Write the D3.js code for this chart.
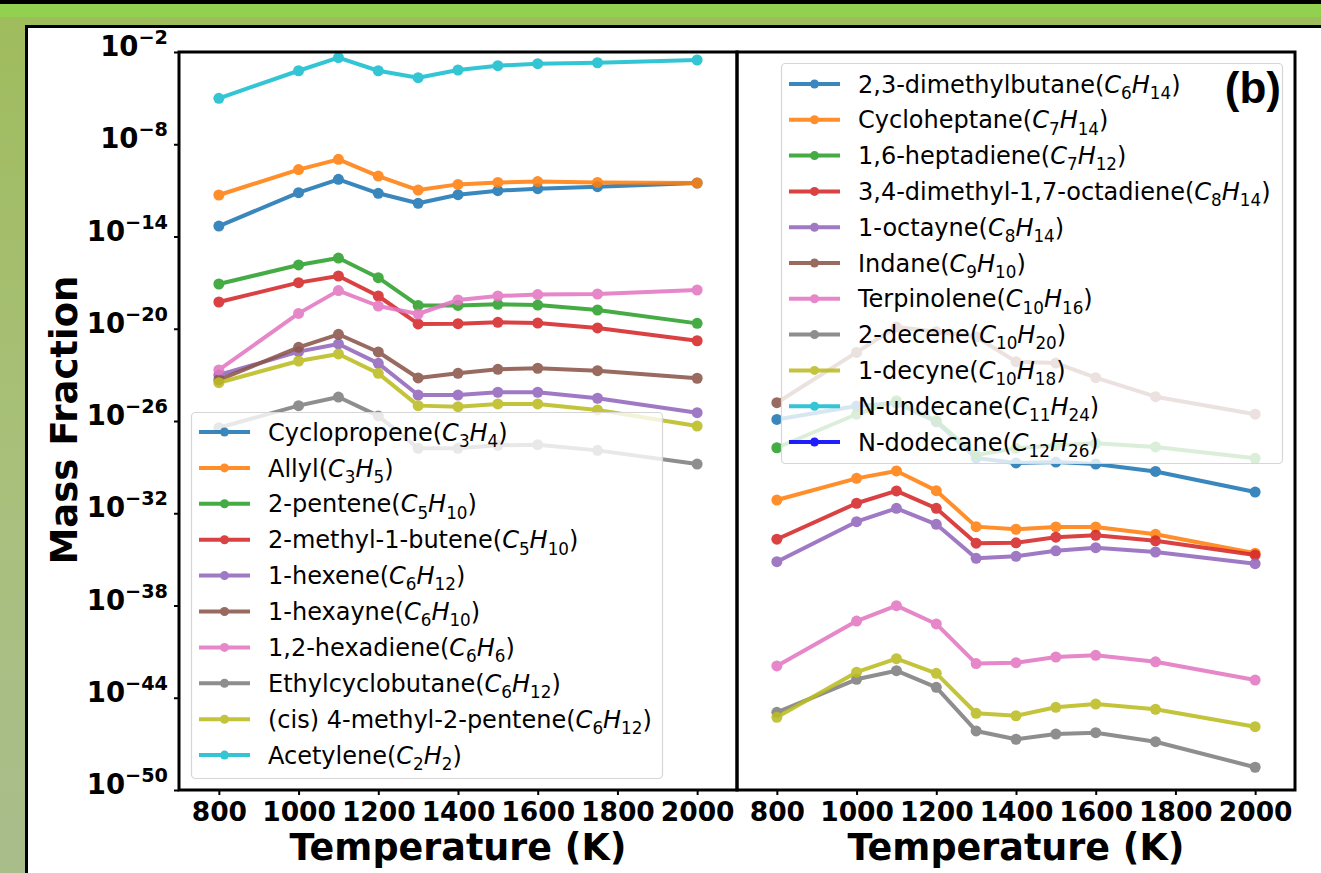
<!DOCTYPE html>
<html>
<head>
<meta charset="utf-8">
<script src="https://cdn.jsdelivr.net/npm/d3@7"></script>
<style>
  html, body { margin: 0; padding: 0; background: #fff; }
  svg { display: block; font-family: "DejaVu Sans", sans-serif; }
</style>
</head>
<body>
<svg id="chart" width="1321" height="873"></svg>
<script>
// temperatures (K) shared by every series
const temperatures = [800, 1000, 1100, 1200, 1300, 1400, 1500, 1600, 1750, 2000];
const xTicks = [800, 1000, 1200, 1400, 1600, 1800, 2000];
const yTickExponents = [-2, -8, -14, -20, -26, -32, -38, -44, -50];

// log10(mass fraction)
const cyclopropene = [-13.32, -11.15, -10.28, -11.19, -11.84, -11.28, -11.02, -10.89, -10.76, -10.52];
const allyl = [-11.3, -9.65, -8.98, -10.07, -10.98, -10.61, -10.48, -10.43, -10.48, -10.52];
const pentene2 = [-17.09, -15.85, -15.4, -16.68, -18.48, -18.48, -18.41, -18.46, -18.78, -19.65];
const methylButene = [-18.26, -17.0, -16.57, -17.87, -19.69, -19.67, -19.58, -19.63, -19.95, -20.78];
const hexene1 = [-23.01, -21.49, -20.99, -22.25, -24.31, -24.31, -24.13, -24.13, -24.52, -25.46];
const hexayne1 = [-23.33, -21.21, -20.36, -21.51, -23.2, -22.9, -22.64, -22.57, -22.73, -23.22];
const hexadiene12 = [-22.68, -19.0, -17.52, -18.52, -19.04, -18.13, -17.87, -17.78, -17.74, -17.48];
const ethylcyclobutane = [-26.44, -25.0, -24.44, -25.67, -27.78, -27.78, -27.58, -27.54, -27.91, -28.8];
const methylPentene = [-23.51, -22.1, -21.64, -22.9, -25.0, -25.07, -24.89, -24.89, -25.28, -26.33];
const acetylene = [-5.01, -3.22, -2.37, -3.22, -3.67, -3.17, -2.89, -2.76, -2.7, -2.52];

const dimethylbutane = [-25.9, -25.02, -24.83, -26.05, -28.41, -28.73, -28.67, -28.8, -29.28, -30.62];
const cycloheptane = [-31.14, -29.73, -29.25, -30.53, -32.87, -33.04, -32.89, -32.89, -33.37, -34.6];
const heptadiene16 = [-27.74, -25.56, -24.68, -25.98, -28.21, -27.78, -27.58, -27.45, -27.69, -28.43];
const octadiene = [-33.69, -31.35, -30.55, -31.68, -33.95, -33.92, -33.56, -33.43, -33.79, -34.72];
const octayne1 = [-35.15, -32.55, -31.68, -32.72, -34.93, -34.8, -34.44, -34.24, -34.52, -35.28];
const indane = [-24.81, -21.54, -19.89, -20.19, -20.52, -22.14, -22.23, -23.18, -24.42, -25.56];
const terpinolene = [-41.93, -39.01, -38.01, -39.2, -41.78, -41.72, -41.35, -41.24, -41.66, -42.85];
const decene2 = [-44.95, -42.8, -42.24, -43.32, -46.16, -46.7, -46.36, -46.27, -46.86, -48.52];
const decyne1 = [-45.27, -42.34, -41.46, -42.41, -45.01, -45.17, -44.62, -44.41, -44.75, -45.88];
const undecane = [];
const dodecane = [];

const tab10 = d3.schemeCategory10;

const leftSeries = [
  { name: "Cyclopropene", c: "3", h: "4", values: cyclopropene, color: tab10[0] },
  { name: "Allyl", c: "3", h: "5", values: allyl, color: tab10[1] },
  { name: "2-pentene", c: "5", h: "10", values: pentene2, color: tab10[2] },
  { name: "2-methyl-1-butene", c: "5", h: "10", values: methylButene, color: tab10[3] },
  { name: "1-hexene", c: "6", h: "12", values: hexene1, color: tab10[4] },
  { name: "1-hexayne", c: "6", h: "10", values: hexayne1, color: tab10[5] },
  { name: "1,2-hexadiene", c: "6", h: "6", values: hexadiene12, color: tab10[6] },
  { name: "Ethylcyclobutane", c: "6", h: "12", values: ethylcyclobutane, color: tab10[7] },
  { name: "(cis) 4-methyl-2-pentene", c: "6", h: "12", values: methylPentene, color: tab10[8] },
  { name: "Acetylene", c: "2", h: "2", values: acetylene, color: tab10[9] },
];

const rightSeries = [
  { name: "2,3-dimethylbutane", c: "6", h: "14", values: dimethylbutane, color: tab10[0] },
  { name: "Cycloheptane", c: "7", h: "14", values: cycloheptane, color: tab10[1] },
  { name: "1,6-heptadiene", c: "7", h: "12", values: heptadiene16, color: tab10[2] },
  { name: "3,4-dimethyl-1,7-octadiene", c: "8", h: "14", values: octadiene, color: tab10[3] },
  { name: "1-octayne", c: "8", h: "14", values: octayne1, color: tab10[4] },
  { name: "Indane", c: "9", h: "10", values: indane, color: tab10[5] },
  { name: "Terpinolene", c: "10", h: "16", values: terpinolene, color: tab10[6] },
  { name: "2-decene", c: "10", h: "20", values: decene2, color: tab10[7] },
  { name: "1-decyne", c: "10", h: "18", values: decyne1, color: tab10[8] },
  { name: "N-undecane", c: "11", h: "24", values: undecane, color: tab10[9] },
  { name: "N-dodecane", c: "12", h: "26", values: dodecane, color: "#0000ff" },
];

const svg = d3.select("#chart");

// page background: green slide frame around a white card
const defs = svg.append("defs");
const grad = defs.append("linearGradient").attr("id", "bg").attr("x1", 0).attr("y1", 0).attr("x2", 0).attr("y2", 1);
grad.append("stop").attr("offset", "0%").attr("stop-color", "#9fbc5c");
grad.append("stop").attr("offset", "60%").attr("stop-color", "#a9c07e");
grad.append("stop").attr("offset", "100%").attr("stop-color", "#a9bd8c");
svg.append("rect").attr("width", 1321).attr("height", 873).attr("fill", "url(#bg)");
svg.append("rect").attr("width", 1321).attr("height", 4).attr("fill", "#000");
svg.append("rect").attr("y", 4).attr("width", 1321).attr("height", 13).attr("fill", "#92d050");
svg.append("rect").attr("x", 26.5).attr("y", 26.5).attr("width", 1320).attr("height", 860)
  .attr("fill", "#fff").attr("stroke", "#000").attr("stroke-width", 3);

const plotTop = 52, plotBottom = 790;
const xTickFont = 26.5;
const yTickFont = 27.5;
const legendFont = 24;
const y = d3.scaleLog().domain([1e-50, 1e-2]).range([plotBottom, plotTop]);

const panels = [
  { series: leftSeries, x: d3.scaleLinear().domain([700, 2100]).range([179, 737]), yLabels: true,
    legend: { x: 191, y: 412, w: 471, h: 366, row0: 432, step: 35.9 } },
  { series: rightSeries, x: d3.scaleLinear().domain([700, 2100]).range([737, 1295]), yLabels: false,
    legend: { x: 781, y: 63, w: 501, h: 400, row0: 84, step: 35.8 } },
];

function formulaText(sel, d, size) {
  const sub = size * 0.26;
  sel.append("tspan").text(d.name + "(");
  sel.append("tspan").attr("font-style", "italic").text("C");
  sel.append("tspan").attr("font-size", size * 0.7).attr("dy", sub).text(d.c);
  sel.append("tspan").attr("font-style", "italic").attr("dy", -sub).text("H");
  sel.append("tspan").attr("font-size", size * 0.7).attr("dy", sub).text(d.h);
  sel.append("tspan").attr("dy", -sub).text(")");
}

panels.forEach((p) => {
  const g = svg.append("g");
  const [x0, x1] = p.x.range();

  const line = d3.line()
    .x((d) => p.x(d.t))
    .y((d) => y(d.v));

  const series = g.selectAll(".series")
    .data(p.series)
    .join("g")
    .attr("class", "series")
    .attr("opacity", 0.88);

  series.append("path")
    .attr("fill", "none")
    .attr("stroke", (d) => d.color)
    .attr("stroke-width", 4)
    .attr("stroke-linejoin", "round")
    .attr("d", (d) => line(d.values.map((e, i) => ({ t: temperatures[i], v: 10 ** e }))));

  series.selectAll("circle")
    .data((d) => d.values.map((e, i) => ({ t: temperatures[i], v: 10 ** e, color: d.color })))
    .join("circle")
    .attr("cx", (d) => p.x(d.t))
    .attr("cy", (d) => y(d.v))
    .attr("r", 5.5)
    .attr("fill", (d) => d.color);

  // x axis
  const xAxis = g.append("g")
    .attr("transform", `translate(0,${plotBottom})`)
    .call(d3.axisBottom(p.x).tickValues(xTicks).tickSize(5).tickPadding(7).tickFormat(d3.format("d")));
  xAxis.select(".domain").remove();
  xAxis.selectAll("line").attr("stroke-width", 2);
  xAxis.selectAll("text")
    .attr("font-family", "DejaVu Sans").attr("font-weight", "bold").attr("font-size", xTickFont).attr("fill", "#000");

  // y axis (labels only on the shared left side)
  if (p.yLabels) {
    const yAxis = g.append("g")
      .attr("transform", `translate(${x0},0)`)
      .call(d3.axisLeft(y).tickValues(yTickExponents.map((e) => 10 ** e)).tickSize(5).tickFormat(""));
    yAxis.select(".domain").remove();
    yAxis.selectAll("line").attr("stroke-width", 2);
    yAxis.selectAll(".tick").each(function (d, i) {
      const t = d3.select(this).append("text")
        .attr("x", -11).attr("dy", "0.36em")
        .attr("text-anchor", "end")
        .attr("font-family", "DejaVu Sans").attr("font-weight", "bold").attr("fill", "#000");
      t.append("tspan").attr("font-size", yTickFont).text("10");
      t.append("tspan").attr("font-size", yTickFont * 0.7).attr("dy", -12).text("\u2212" + Math.abs(yTickExponents[i]));
    });
  }

  // axes frame
  g.append("rect")
    .attr("x", x0).attr("y", plotTop)
    .attr("width", x1 - x0).attr("height", plotBottom - plotTop)
    .attr("fill", "none").attr("stroke", "#000").attr("stroke-width", 3);

  g.append("text")
    .attr("x", (x0 + x1) / 2).attr("y", 860)
    .attr("text-anchor", "middle")
    .attr("font-weight", "bold").attr("font-size", 36.5)
    .text("Temperature (K)");

  // legend, semi-transparent like matplotlib
  const L = p.legend;
  const lg = g.append("g");
  lg.append("rect")
    .attr("x", L.x + 0.5).attr("y", L.y + 0.5)
    .attr("width", L.w).attr("height", L.h)
    .attr("rx", 4)
    .attr("fill", "#fff").attr("fill-opacity", 0.8)
    .attr("stroke", "#d6d6d6").attr("stroke-width", 1.2);
  const item = lg.selectAll(".item")
    .data(p.series)
    .join("g")
    .attr("opacity", 0.88)
    .attr("transform", (d, i) => `translate(${L.x},${L.row0 + i * L.step})`);
  item.append("line")
    .attr("x1", 8).attr("x2", 59)
    .attr("stroke", (d) => d.color).attr("stroke-width", 4);
  item.append("circle")
    .attr("cx", 33.5).attr("r", 4.5)
    .attr("fill", (d) => d.color);
  lg.selectAll(".label")
    .data(p.series)
    .join("text")
    .attr("x", L.x + 77)
    .attr("y", (d, i) => L.row0 + i * L.step)
    .attr("dy", "0.36em")
    .attr("font-size", legendFont).attr("fill", "#000")
    .each(function (d) { formulaText(d3.select(this), d, legendFont); });
});

svg.append("text")
  .attr("transform", "translate(77,420) rotate(-90)")
  .attr("text-anchor", "middle")
  .attr("font-weight", "bold").attr("font-size", 37)
  .text("Mass Fraction");

svg.append("text")
  .attr("x", 1281).attr("y", 103)
  .attr("text-anchor", "end")
  .attr("font-family", "Liberation Sans")
  .attr("font-weight", "bold").attr("font-size", 44)
  .text("(b)");
</script>
</body>
</html>
